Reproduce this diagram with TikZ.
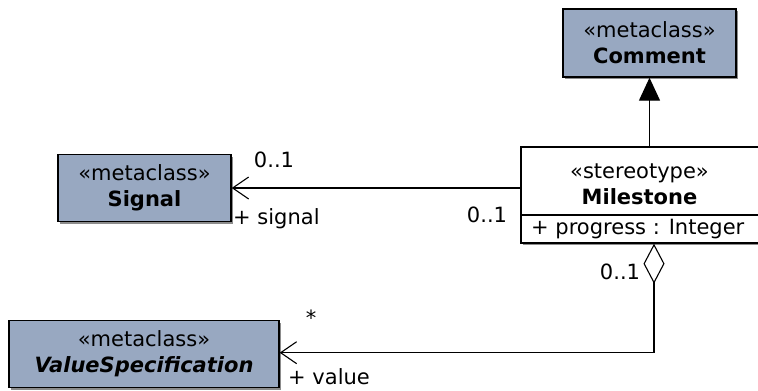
\documentclass[tikz,border=0pt]{standalone}
\usepackage{fontspec}
\setmainfont{DejaVu Sans}
\usetikzlibrary{arrows.meta,calc,shadows}
\definecolor{metafill}{RGB}{152,168,193}
\begin{document}
\begin{tikzpicture}[x=1pt,y=-1pt,
  every node/.style={font=\fontsize{21}{26}\selectfont, inner sep=0pt},
  shad/.style={drop shadow={shadow xshift=2pt, shadow yshift=-2pt, fill=black!45, opacity=1}},
  meta/.style={draw, line width=1.4pt, fill=metafill, minimum height=67pt, align=center, shad},
  conn/.style={line width=1.4pt},
  lbl/.style={font=\fontsize{21}{24}\selectfont}
  ]
\useasboundingbox (0,0) rectangle (758,391);
\clip (0,0) rectangle (758,391);
% boxes
\node[meta, minimum width=173pt, minimum height=68pt] (cm) at (649.5,43) {«metaclass»\\\textbf{Comment}};
\node[meta, minimum width=173pt] (sig) at (144.5,188) {«metaclass»\\\textbf{Signal}};
\node[meta, minimum width=270pt] (vs) at (144,354) {«metaclass»\\\textbf{\itshape ValueSpecification}};
\node[draw, line width=1.4pt, fill=white, minimum width=241pt, minimum height=96pt, shad] (ms) at (641.5,195) {};
\node[align=center] (mst) at (639.5,184) {«stereotype»\\\textbf{Milestone}};
\draw[conn] (ms.west |- 0,215) coordinate (dl) -- (ms.east |- 0,215) coordinate (dr);
\node[anchor=west] (attr) at (531,229) {+ progress : Integer};
% generalization
\draw[conn, -{Triangle[length=23pt,width=21pt]}] (cm.south |- ms.north) -- (cm.south);
% association to Signal
\draw[conn, -{Straight Barb[length=16pt,width=22pt,line width=1.1pt]}] (ms.west |- sig.east) -- (sig.east);
% aggregation to ValueSpecification
\coordinate (dt) at ([xshift=12.5pt]ms.south);
\coordinate (cr) at ($(dt)+(0,109)$);
\draw[conn, {Diamond[open,length=40pt,width=21pt,line width=1.1pt]}-{Straight Barb[length=16pt,width=22pt,line width=1.1pt]}] (dt) -- (cr) -- (vs.east |- cr);
% labels
\node[lbl] (m1) at (274,160) {0..1};
\node[lbl, anchor=west] (r1) at (233,219) {+ signal};
\node[lbl] (m2) at (487,215) {0..1};
\node[lbl] (m3) at (620,272) {0..1};
\node[lbl] (m4) at (311,318) {*};
\node[lbl, anchor=west] (r2) at (288,377) {+ value};
\end{tikzpicture}
\end{document}
